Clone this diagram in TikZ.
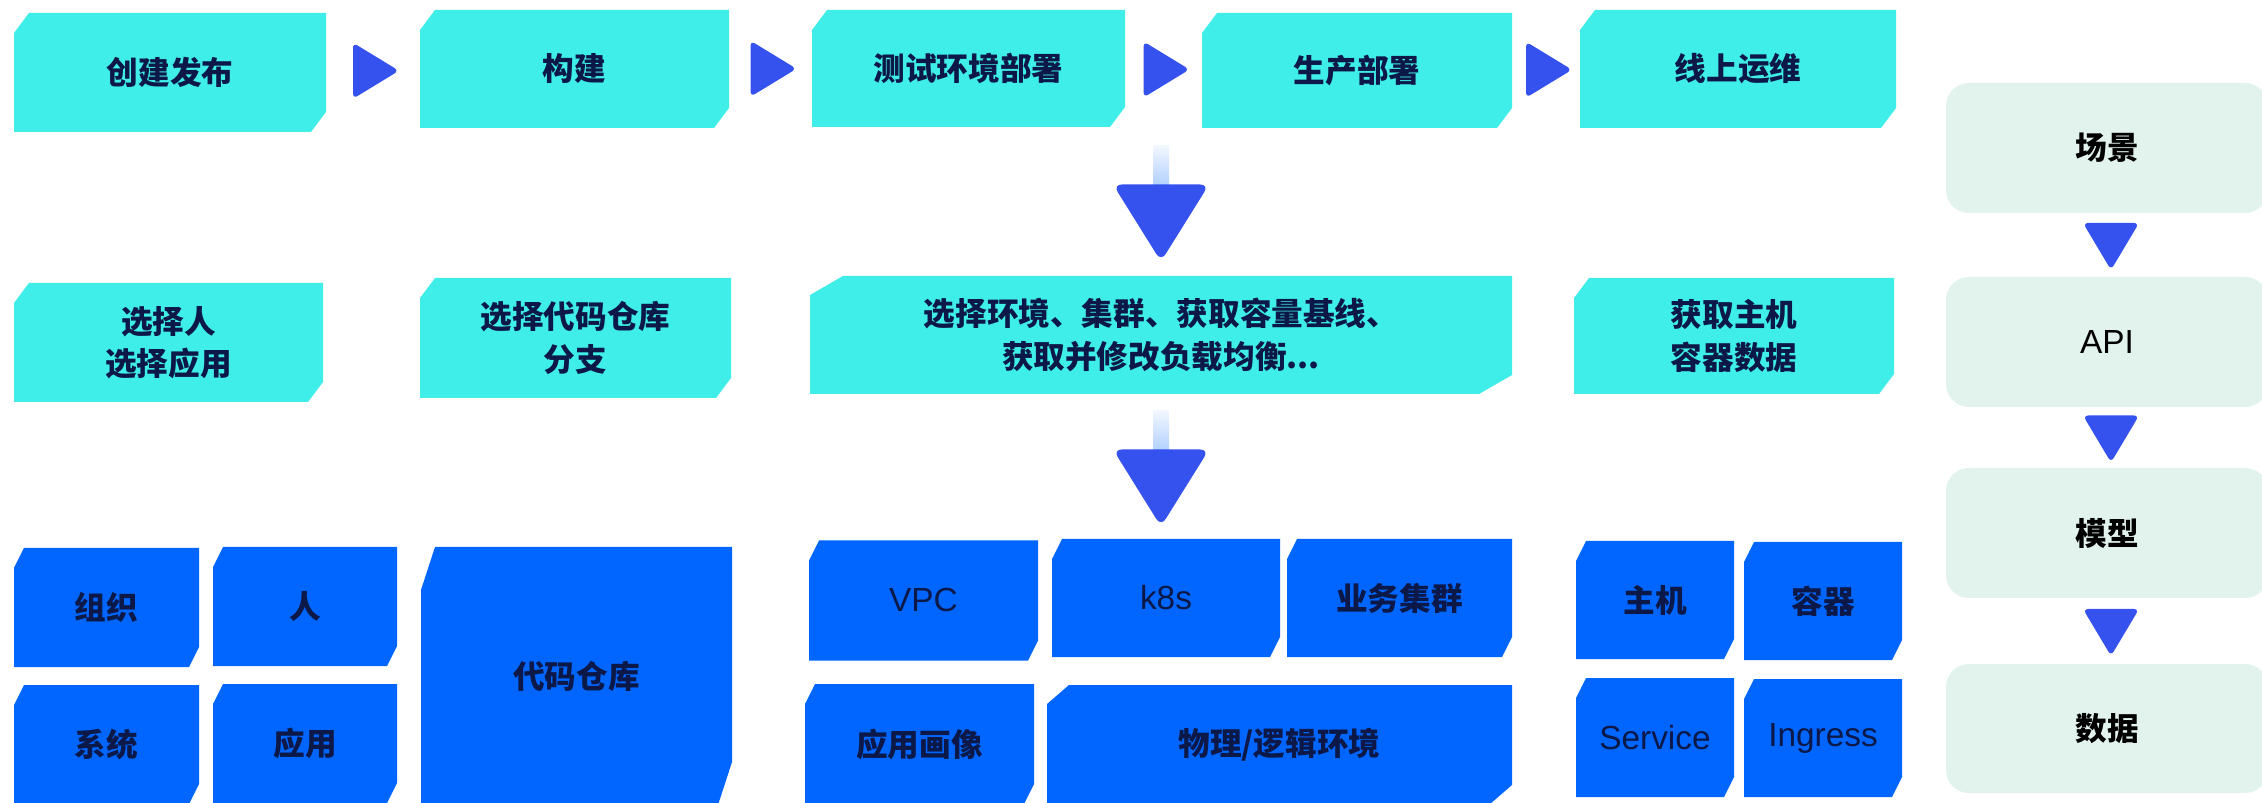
\documentclass[tikz,border=0pt]{standalone}
\usepackage{fontspec}
\setmainfont{Noto Sans CJK SC}
\newfontfamily\latinfont{Liberation Sans}
\usetikzlibrary{calc}
\definecolor{stagec}{HTML}{3FEDE9}
\definecolor{basec}{HTML}{0066FF}
\definecolor{arrowc}{HTML}{3551EE}
\definecolor{mint}{HTML}{E1F3EC}
\definecolor{ink}{HTML}{0C1847}
\tikzset{
  sz/.style 2 args={minimum width=#1*0.02cm, minimum height=#2*0.02cm},
  chamf/.style n args={3}{fill=white, inner sep=0pt, outer sep=0pt,
    path picture={\fill[#1]
      ([yshift=-#3*0.02cm]path picture bounding box.north west) --
      ([xshift=#2*0.02cm]path picture bounding box.north west) --
      (path picture bounding box.north east) --
      ([yshift=#3*0.02cm]path picture bounding box.south east) --
      ([xshift=-#2*0.02cm]path picture bounding box.south east) --
      (path picture bounding box.south west) -- cycle;}},
  stage/.style={chamf={stagec}{15}{20}, text=ink, align=center,
    font=\bfseries\fontsize{18}{24}\selectfont},
  base/.style={chamf={basec}{10}{20}, text=ink, align=center,
    font=\bfseries\fontsize{18}{24}\selectfont},
  latin/.style={font=\latinfont\fontsize{19}{24}\selectfont},
  layer/.style={fill=mint, rounded corners=13pt, inner sep=0pt, text=black,
    font=\bfseries\fontsize{18}{24}\selectfont},
  wedge/.style={fill=arrowc, rounded corners=#1},
  pics/rtri/.style={code={\fill[wedge=3pt] (-20,-28) -- (26,0) -- (-20,28) -- cycle;}},
  pics/dtri/.style={code={\fill[wedge=3pt] (-28,-22) -- (28,-22) -- (0,25) -- cycle;}},
  pics/darr/.style={code={
    \shade[top color=basec!5, middle color=basec, bottom color=basec!30] (-8,-56) rectangle (8,-17);
    \fill[wedge=5pt] (-48,-17) -- (48,-17) -- (0,60) -- cycle;}},
}
\begin{document}
\begin{tikzpicture}[x=0.02cm, y=-0.02cm]
  \useasboundingbox (0,0) rectangle (2262,803);

  \node[stage, sz={312}{119}] (pub) at (170,72.5) {创建发布};
  \node[stage, sz={309}{118}] (build) at (574.5,69) {构建};
  \node[stage, sz={313}{117}] (test) at (968.5,68.5) {测试环境部署};
  \node[stage, sz={310}{115}] (prod) at (1357,70.5) {生产部署};
  \node[stage, sz={316}{118}] (ops) at (1738,69) {线上运维};
  \pic at ($(pub.east)!0.5!(build.west)$) {rtri};
  \pic at ($(build.east)!0.5!(test.west)$) {rtri};
  \pic at ($(test.east)!0.5!(prod.west)$) {rtri};
  \pic at ($(prod.east)!0.5!(ops.west)$) {rtri};

  \node[stage, sz={309}{119}] (selp) at (168.5,342.5) {选择人\\选择应用};
  \node[stage, sz={311}{120}] (selr) at (575.5,338) {选择代码仓库\\分支};
  \node[stage, chamf={stagec}{33}{19}, sz={702}{118}] (selenv) at (1161,335)
    {选择环境、集群、获取容量基线、\\获取并修改负载均衡...};
  \node[stage, sz={320}{116}] (selhost) at (1734,336) {获取主机\\容器数据};
  \pic at ($(selenv.north)!0.5!(selenv.north |- test.south)$) {darr};

  \node[base, sz={185}{119}] (org) at (106.5,607.5) {组织};
  \node[base, sz={184}{119}] (person) at (305,606.5) {人};
  \node[base, sz={185}{119}] (sys) at (106.5,744.5) {系统};
  \node[base, sz={184}{119}] (app) at (305,743.5) {应用};
  \node[base, chamf={basec}{14}{43}, sz={311}{258}] (repo) at (576.5,676) {代码仓库};
  \node[base, latin, sz={229}{120}] (vpc) at (923.5,600.5) {VPC};
  \node[base, latin, sz={228}{118}] (k8s) at (1166,598) {k8s};
  \node[base, sz={225}{118}] (biz) at (1399.5,598) {业务集群};
  \node[base, sz={229}{120}] (portrait) at (919.5,744) {应用画像};
  \node[base, chamf={basec}{22}{19}, sz={465}{119}] (env) at (1279.5,744.5) {物理/逻辑环境};
  \pic at ($(selenv.south)!0.5!(selenv.south |- k8s.north)$) {darr};

  \node[base, sz={158}{118}] (host) at (1655,600) {主机};
  \node[base, sz={158}{118}] (ctr) at (1823,601) {容器};
  \node[base, latin, sz={158}{119}] (svc) at (1655,737.5) {Service};
  \node[base, latin, sz={158}{118}] (ing) at (1823,738) {Ingress};

  \node[layer, sz={322}{130}] (scene) at (2107,148) {场景};
  \node[layer, latin, text=black, sz={322}{130}] (api) at (2107,342) {API};
  \node[layer, sz={322}{130}] (model) at (2107,533) {模型};
  \node[layer, sz={322}{129}] (data) at (2107,728.5) {数据};
  \pic at ($(scene.south)!0.5!(api.north)+(4,0)$) {dtri};
  \pic at ($(api.south)!0.5!(model.north)+(4,0)$) {dtri};
  \pic at ($(model.south)!0.5!(data.north)+(4,0)$) {dtri};
\end{tikzpicture}
\end{document}
